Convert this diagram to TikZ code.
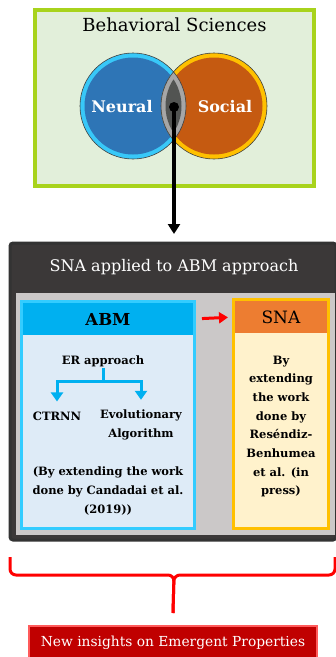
\documentclass[tikz,border=0pt]{standalone}
\usepackage{fontspec}
\setmainfont{DejaVu Serif}
\usetikzlibrary{positioning,arrows.meta,calc}
\definecolor{bsgreen}{HTML}{A8D31C}
\definecolor{bsfill}{HTML}{E2EFDA}
\definecolor{neuring}{HTML}{38C8F8}
\definecolor{neufill}{HTML}{2E75B6}
\definecolor{socring}{HTML}{FFC000}
\definecolor{socfill}{HTML}{C55A11}
\definecolor{lensring}{HTML}{A6A6A6}
\definecolor{lensfill}{HTML}{525452}
\definecolor{dbfill}{HTML}{3B3838}
\definecolor{dbline}{HTML}{333333}
\definecolor{panelgray}{HTML}{CBC8C8}
\definecolor{abmline}{HTML}{33CCFF}
\definecolor{abmhead}{HTML}{00B0F0}
\definecolor{abmfill}{HTML}{DEEBF7}
\definecolor{snaline}{HTML}{FFC000}
\definecolor{snahead}{HTML}{ED7D31}
\definecolor{snafill}{HTML}{FFF2CC}
\definecolor{nired}{HTML}{C00000}
\definecolor{niline}{HTML}{FF5B5B}
\tikzstyle{box}   = [rectangle, inner sep=0pt, outer sep=0pt]
\tikzstyle{tree}  = [line width=3pt, draw=abmhead, -{Triangle[width=12pt,length=9pt]}]
\tikzstyle{brace} = [line width=3pt, draw=red, rounded corners=6pt]

\begin{document}
\begin{tikzpicture}[x=1pt,y=-1pt,
		lbl/.style={font=\bfseries\fontsize{11.5}{18.7}\selectfont,align=center,inner sep=1pt},
		venn/.style={font=\bfseries\fontsize{16}{18}\selectfont,text=white},
		redarr/.style={line width=3pt,draw=red,-{Triangle[width=11pt,length=9pt]}}
	]
	\useasboundingbox (0,0) rectangle (336,657);

	% behavioral sciences
	\node[box,draw=bsgreen,line width=4pt,fill=bsfill,minimum width=279,minimum height=176] (BS) at (174.5,98) {};
	\node[font=\fontsize{18}{20}\selectfont] (BSt) at (174.5,25) {Behavioral Sciences};

	\coordinate (nc) at (133,106);
	\coordinate (sc) at (214,106);
	\fill[neuring] (nc) circle (53pt);
	\fill[neufill] (nc) circle (48.5pt);
	\fill[socring] (sc) circle (53pt);
	\fill[socfill] (sc) circle (48.5pt);
	\begin{scope}
		\clip (nc) circle (53pt);
		\fill[lensring] (sc) circle (53pt);
	\end{scope}
	\begin{scope}
		\clip (nc) circle (48.5pt);
		\fill[lensfill] (sc) circle (48.5pt);
	\end{scope}
	\draw[black!75,line width=0.6pt] (nc) circle (53pt) (sc) circle (53pt);
	\node[venn] (N) at (122,107) {Neural};
	\node[venn] (S) at (225,107) {Social};
	\node[circle,fill=black,inner sep=0pt,minimum size=10] (dot) at (174,107) {};

	% SNA applied to ABM
	\node[box,draw=dbline,line width=3pt,fill=dbfill,minimum width=326,minimum height=297,rounded corners=3pt] (DB) at (173,391.5) {};
	\node[text=white,font=\fontsize{16}{18}\selectfont] (DBt) at (174,267) {SNA applied to ABM approach};
	\node[box,fill=panelgray,minimum width=319,minimum height=242] (P) at (175,414) {};

	\draw[line width=3.5pt,-{Triangle[length=10pt,width=12pt]},shorten >=9pt] (dot.center) -- (dot |- DB.north);

	\node[box,draw=abmline,line width=3pt,fill=abmfill,minimum width=173,minimum height=227] (ABM) at (108,415) {};
	\node[box,fill=abmhead,minimum width=170,minimum height=32,anchor=north,font=\bfseries\fontsize{16.5}{18}\selectfont] (ABMh) at ([yshift=-1.5pt]ABM.north) {ABM};

	\node[box,draw=snaline,line width=3pt,fill=snafill,minimum width=95,minimum height=229] (SNA) at (281,414) {};
	\node[box,fill=snahead,minimum width=92,minimum height=32,anchor=north,font=\fontsize{17}{18}\selectfont] (SNAh) at ([yshift=-1.5pt]SNA.north) {SNA};

	\draw[redarr,shorten <=9pt,shorten >=7pt] (ABMh.east) -- (SNAh.west);

	\node[lbl] (ER) at (103,361) {ER approach};
	\node[lbl] (CT) at (57,416) {CTRNN};
	\node[lbl] (EA) at (141,425) {Evolutionary\\Algorithm};
	\draw[tree,shorten >=9pt] (ER.south) -- ++(0,14) -| (CT.north);
	\draw[tree,shorten >=9pt] (ER.south) -- ++(0,14) -| (EA.north);
	\node[lbl] (CA) at (108,491) {(By extending the work\\done by Candadai et al.\\(2019))};

	\node[lbl] (SNAb) at (281,426.5) {By\\extending\\the work\\done by\\Reséndiz-\\Benhumea\\et al. (in\\press)};

	% new insights
	\node[box,fill=nired,draw=niline,line width=2pt,minimum width=288,minimum height=34,text=white,font=\fontsize{13.8}{15}\selectfont] (NI) at (173,643) {New insights on Emergent Properties};

	\coordinate (bl) at (10,557);
	\coordinate (br) at (335,557);
	\coordinate (bm) at (174,575);
	\draw[brace] (bl) |- (bm) -- ([yshift=13pt]NI.north);
	\draw[brace] (br) |- (bm) -- ([yshift=13pt]NI.north);
\end{tikzpicture}
\end{document}
